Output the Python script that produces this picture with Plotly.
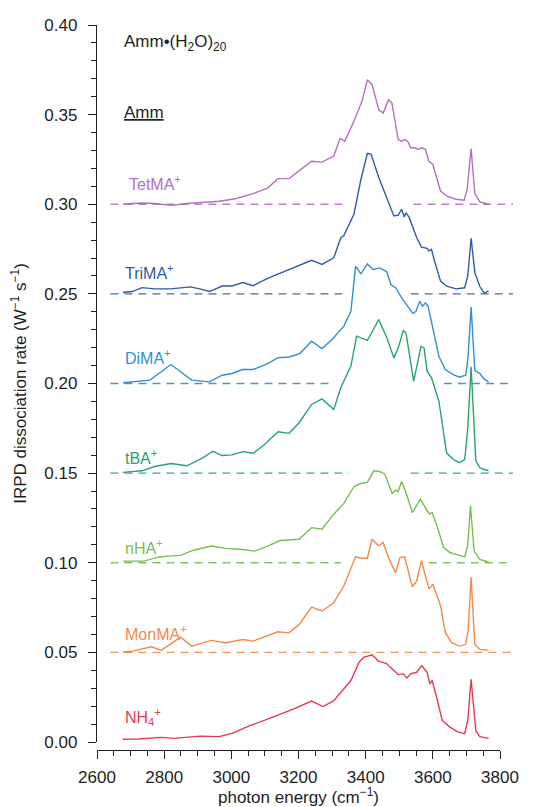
import plotly.graph_objects as go

# IRPD spectra of Amm·(H2O)20 clusters, stacked with a 0.05 offset per species.
# Each species: photon energy (cm^-1) and the stacked dissociation rate (W^-1 s^-1).

SPECIES = ["TetMA", "TriMA", "DiMA", "tBA", "nHA", "MonMA", "NH4"]
BASELINES = [0.30, 0.25, 0.20, 0.15, 0.10, 0.05, 0.00]

TETMA_X = [2677, 2734, 2772, 2820, 2868, 2925, 2964, 3012, 3065, 3108, 3139, 3172,
           3202, 3239, 3270, 3305, 3324, 3338, 3365, 3389, 3405, 3419, 3439, 3452,
           3468, 3478, 3497, 3507, 3516, 3525, 3534, 3547, 3556, 3565, 3578, 3588,
           3600, 3623, 3641, 3669, 3693, 3702, 3714, 3725, 3740, 3753, 3766]
TETMA_Y = [0.3000, 0.3007, 0.3004, 0.2994, 0.3004, 0.3013, 0.3017, 0.3031, 0.3059,
           0.3090, 0.3143, 0.3143, 0.3188, 0.3240, 0.3235, 0.3269, 0.3367, 0.3352,
           0.3463, 0.3574, 0.3694, 0.3667, 0.3528, 0.3509, 0.3583, 0.3565, 0.3361,
           0.3352, 0.3361, 0.3352, 0.3315, 0.3315, 0.3306, 0.3315, 0.3306, 0.3241,
           0.3222, 0.3074, 0.3046, 0.3028, 0.3022, 0.3080, 0.3310, 0.3060, 0.3013,
           0.3005, 0.3000]

TRIMA_X = [2677, 2705, 2734, 2772, 2820, 2878, 2906, 2935, 2973, 3002, 3034, 3065,
           3108, 3150, 3202, 3239, 3270, 3305, 3326, 3335, 3365, 3385, 3405, 3416,
           3439, 3465, 3484, 3497, 3507, 3515, 3520, 3530, 3552, 3566, 3583, 3588,
           3596, 3605, 3623, 3641, 3669, 3695, 3704, 3714, 3725, 3740, 3753, 3766]
TRIMA_Y = [0.2509, 0.2513, 0.2535, 0.2528, 0.2528, 0.2539, 0.2528, 0.2513, 0.2544,
           0.2544, 0.2563, 0.2546, 0.2587, 0.2619, 0.2655, 0.2687, 0.2664, 0.2701,
           0.2813, 0.2826, 0.2944, 0.3131, 0.3284, 0.3280, 0.3149, 0.3019, 0.2935,
           0.2940, 0.2972, 0.2929, 0.2953, 0.2925, 0.2813, 0.2761, 0.2754, 0.2739,
           0.2748, 0.2683, 0.2571, 0.2543, 0.2528, 0.2534, 0.2600, 0.2810, 0.2620,
           0.2541, 0.2504, 0.2517]

DIMA_X = [2677, 2705, 2758, 2820, 2882, 2935, 2973, 3002, 3034, 3065, 3108, 3139,
          3172, 3204, 3239, 3270, 3300, 3335, 3356, 3370, 3386, 3405, 3422, 3442,
          3463, 3475, 3490, 3507, 3525, 3541, 3550, 3561, 3569, 3578, 3586, 3600,
          3618, 3637, 3661, 3679, 3698, 3705, 3714, 3725, 3740, 3753, 3766]
DIMA_Y = [0.2004, 0.2009, 0.2019, 0.2106, 0.2019, 0.2009, 0.2046, 0.2056, 0.2078,
          0.2078, 0.2111, 0.2144, 0.2148, 0.2167, 0.2236, 0.2195, 0.2245, 0.2320,
          0.2403, 0.2654, 0.2612, 0.2667, 0.2636, 0.2645, 0.2623, 0.2552, 0.2533,
          0.2478, 0.2431, 0.2390, 0.2403, 0.2459, 0.2431, 0.2450, 0.2431, 0.2310,
          0.2152, 0.2078, 0.2050, 0.2035, 0.2046, 0.2150, 0.2426, 0.2074, 0.2056,
          0.2024, 0.2009]

TBA_X = [2677, 2734, 2772, 2820, 2868, 2916, 2945, 2973, 3002, 3034, 3065, 3097,
         3139, 3172, 3202, 3239, 3270, 3305, 3326, 3356, 3373, 3405, 3439, 3463,
         3484, 3497, 3512, 3520, 3543, 3565, 3574, 3583, 3596, 3618, 3641, 3661,
         3679, 3695, 3704, 3714, 3728, 3740, 3753, 3766]
TBA_Y = [0.1504, 0.1513, 0.1537, 0.1554, 0.1541, 0.1587, 0.1622, 0.1598, 0.1602,
         0.1620, 0.1611, 0.1657, 0.1731, 0.1722, 0.1781, 0.1883, 0.1914, 0.1855,
         0.1976, 0.2097, 0.2264, 0.2240, 0.2357, 0.2255, 0.2143, 0.2199, 0.2296,
         0.2283, 0.2013, 0.2208, 0.2199, 0.2069, 0.2032, 0.1901, 0.1613, 0.1576,
         0.1558, 0.1576, 0.1750, 0.2093, 0.1570, 0.1530, 0.1520, 0.1515]

NHA_X = [2677, 2739, 2782, 2810, 2849, 2887, 2940, 2983, 3034, 3070, 3108, 3145,
         3202, 3239, 3270, 3305, 3335, 3365, 3385, 3405, 3424, 3442, 3457, 3479,
         3489, 3497, 3507, 3520, 3539, 3552, 3563, 3583, 3591, 3598, 3614, 3632,
         3651, 3674, 3695, 3704, 3712, 3723, 3740, 3766]
NHA_Y = [0.1009, 0.1009, 0.1031, 0.1037, 0.1041, 0.1070, 0.1093, 0.1080, 0.1074,
         0.1065, 0.1093, 0.1124, 0.1131, 0.1196, 0.1187, 0.1271, 0.1331, 0.1424,
         0.1442, 0.1448, 0.1513, 0.1509, 0.1494, 0.1386, 0.1405, 0.1398, 0.1453,
         0.1392, 0.1280, 0.1317, 0.1355, 0.1290, 0.1271, 0.1280, 0.1196, 0.1085,
         0.1057, 0.1044, 0.1033, 0.1100, 0.1319, 0.1065, 0.1019, 0.1004]

MONMA_X = [2677, 2705, 2763, 2791, 2849, 2882, 2940, 2983, 3034, 3065, 3139, 3172,
           3202, 3239, 3270, 3305, 3335, 3370, 3389, 3405, 3419, 3439, 3452, 3470,
           3489, 3502, 3516, 3539, 3552, 3566, 3578, 3589, 3600, 3623, 3637, 3656,
           3679, 3698, 3705, 3714, 3725, 3740, 3766]
MONMA_Y = [0.0502, 0.0507, 0.0531, 0.0511, 0.0585, 0.0535, 0.0567, 0.0554, 0.0572,
           0.0563, 0.0615, 0.0609, 0.0656, 0.0753, 0.0731, 0.0777, 0.0870, 0.1033,
           0.1025, 0.1025, 0.1131, 0.1094, 0.1113, 0.1020, 0.0945, 0.1029, 0.1033,
           0.0866, 0.0899, 0.1011, 0.0927, 0.0853, 0.0880, 0.0760, 0.0610, 0.0554,
           0.0535, 0.0545, 0.0620, 0.0920, 0.0544, 0.0517, 0.0511]

NH4_X = [2677, 2724, 2791, 2830, 2906, 2964, 3002, 3055, 3108, 3137, 3186, 3239,
         3273, 3305, 3330, 3356, 3380, 3394, 3419, 3439, 3461, 3484, 3497, 3512,
         3523, 3534, 3552, 3567, 3583, 3591, 3598, 3611, 3628, 3651, 3674, 3695,
         3704, 3714, 3728, 3740, 3766]
NH4_Y = [0.0015, 0.0017, 0.0026, 0.0020, 0.0033, 0.0030, 0.0048, 0.0091, 0.0128,
         0.0148, 0.0185, 0.0228, 0.0198, 0.0231, 0.0287, 0.0343, 0.0444, 0.0472,
         0.0487, 0.0450, 0.0439, 0.0398, 0.0376, 0.0380, 0.0357, 0.0380, 0.0389,
         0.0426, 0.0389, 0.0324, 0.0343, 0.0250, 0.0120, 0.0083, 0.0056, 0.0046,
         0.0120, 0.0350, 0.0063, 0.0030, 0.0020]

# where each dashed zero line is interrupted by the spectrum underneath
BASELINE_BREAKS = [(3340, 3542), (3330, 3534), (3305, 3633), (3350, 3534),
                   (3326, 3588), None, None]

X_TICKS = [2600, 2800, 3000, 3200, 3400, 3600, 3800]

SPECTRA = [(TETMA_X, TETMA_Y), (TRIMA_X, TRIMA_Y), (DIMA_X, DIMA_Y), (TBA_X, TBA_Y),
           (NHA_X, NHA_Y), (MONMA_X, MONMA_Y), (NH4_X, NH4_Y)]

# ---- styling ----
COLORS = ["#b46fc3", "#2f5ca6", "#3290cd", "#27a468", "#76bf52", "#f4894a", "#e6394f"]
LABELS = ["TetMA<sup>+</sup>", "TriMA<sup>+</sup>", "DiMA<sup>+</sup>", "tBA<sup>+</sup>",
          "nHA<sup>+</sup>", "MonMA<sup>+</sup>", "NH<sub>4</sub><sup>+</sup>"]
LABEL_POS = [(2690, 0.312), (2677, 0.262), (2676, 0.215), (2676, 0.159),
             (2676, 0.109), (2676, 0.061), (2676, 0.0140)]
FONT = "Liberation Sans, Arial, sans-serif"
INK = "#1e1e1e"

W, H = 538, 807
ML, MR, MT, MB = 97, 25, 25, 57
plot_w = W - ML - MR
axis_px = 403                       # length of the drawn energy axis
x_frac = axis_px / plot_w
x_lo, x_hi = X_TICKS[0], X_TICKS[-1]
x_ext = x_lo + (x_hi - x_lo) / x_frac   # baselines run a little past the axis end
y_gap = 8 / (H - MT - MB)               # energy axis sits below the rate axis

fig = go.Figure()

for base, brk, col in zip(BASELINES, BASELINE_BREAKS, COLORS):
    if base == 0.0:
        continue
    if brk:
        bx = [2640, brk[0], None, brk[1], x_ext]
        by = [base, base, None, base, base]
    else:
        bx = [2640, x_ext]
        by = [base, base]
    fig.add_trace(go.Scatter(x=bx, y=by, xaxis="x2", yaxis="y", mode="lines",
                             line=dict(color=col, width=1.3, dash="8px,6px"),
                             hoverinfo="skip", opacity=0.9))

for (sx, sy), col, name in zip(SPECTRA, COLORS, SPECIES):
    fig.add_trace(go.Scatter(x=sx, y=sy, mode="lines", name=name,
                             line=dict(color=col, width=1.4)))

for text, (lx, ly), col in zip(LABELS, LABEL_POS, COLORS):
    fig.add_annotation(x=lx, y=ly, xref="x", yref="y", text=text, showarrow=False,
                       xanchor="left", yanchor="middle",
                       font=dict(family=FONT, size=16, color=col))

fig.add_annotation(x=2674, y=0.390, xref="x", yref="y",
                   text="Amm•(H<sub>2</sub>O)<sub>20</sub>", showarrow=False,
                   xanchor="left", yanchor="middle",
                   font=dict(family=FONT, size=17, color=INK))
fig.add_annotation(x=2674, y=0.351, xref="x", yref="y",
                   text="<u>Amm</u>", showarrow=False,
                   xanchor="left", yanchor="middle",
                   font=dict(family=FONT, size=17, color=INK))

fig.update_layout(
    width=W, height=H,
    margin=dict(l=ML, r=MR, t=MT, b=MB, pad=0),
    plot_bgcolor="rgba(0,0,0,0)", paper_bgcolor="white",
    showlegend=False,
    font=dict(family=FONT, size=17, color=INK),
    xaxis=dict(domain=[0, x_frac], range=[x_lo, x_hi], anchor="free", position=0,
               automargin=False,
               showline=True, linecolor=INK, linewidth=1.3, mirror=False,
               ticks="outside", ticklen=8, tickwidth=1.3, tickcolor=INK,
               tickvals=X_TICKS, showgrid=False, zeroline=False,
               ticklabelstandoff=3,
               minor=dict(dtick=50, tick0=2600, ticks="outside", ticklen=5,
                          tickwidth=1.2, tickcolor=INK, showgrid=False),
               title=dict(text="photon energy (cm<sup>−1</sup>)", standoff=4,
                          font=dict(size=17))),
    xaxis2=dict(domain=[0, 1], range=[x_lo, x_ext], anchor="y", visible=False,
                showgrid=False, zeroline=False),
    yaxis=dict(domain=[y_gap, 1], range=[0, 0.40], anchor="x",
               automargin=False,
               showline=True, linecolor=INK, linewidth=1.3,
               ticks="outside", ticklen=8, tickwidth=1.3, tickcolor=INK,
               dtick=0.05, tick0=0, tickformat=".2f", showgrid=False, zeroline=False,
               ticklabelstandoff=7,
               minor=dict(dtick=0.01, ticks="outside", ticklen=5, tickwidth=1.2,
                          tickcolor=INK, showgrid=False),
               title=dict(text="IRPD dissociation rate (W<sup>−1</sup> s<sup>−1</sup>)",
                          standoff=13, font=dict(size=17))),
)

fig.write_html("out.html")
